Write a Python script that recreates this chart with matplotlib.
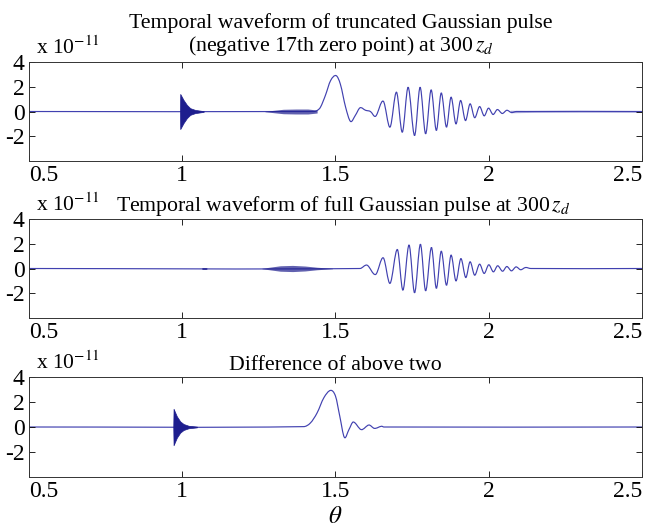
"""
    Temporal waveforms of truncated / full Gaussian pulse and their difference.
"""
import matplotlib
matplotlib.use("Agg")
import matplotlib.pyplot as plt
from matplotlib.path import Path
from matplotlib.patches import PathPatch

plt.rcParams['font.family'] = ['Liberation Serif', 'DejaVu Serif']
plt.rcParams['mathtext.fontset'] = 'stix'
plt.rcParams['axes.unicode_minus'] = False

# values in units of 1e-11
# --- truncated pulse (top)
trunc_theta = [0.5, 1.43, 1.44, 1.451, 1.467, 1.484, 1.502, 1.516, 1.533, 1.549, 1.565,
               1.580, 1.598, 1.614, 1.631, 1.656, 1.678, 1.699, 1.718, 1.737, 1.758,
               1.776, 1.794, 1.812, 1.829, 1.845, 1.862, 1.877, 1.893, 1.908, 1.924,
               1.939, 1.954, 1.970, 1.985, 1.999, 2.014, 2.028, 2.044, 2.059, 2.074,
               2.09, 2.5]
trunc_value = [0, 0, 0.08, 0.35, 1.3, 2.5, 2.9, 2.2, 0.35, -0.8, -0.3,
               0.3, 0.1, 0.0, -0.38, 0.83, -1.26, 1.56, -1.67, 1.96, -1.94,
               1.96, -1.8, 1.75, -1.53, 1.5, -1.26, 1.16, -1.0, 0.89, -0.73,
               0.62, -0.5, 0.4, -0.35, 0.27, -0.24, 0.16, -0.16, 0.1, -0.08,
               0, 0]
trunc_burst_theta = [0.9925, 0.9935, 1.004, 1.015, 1.026, 1.042, 1.07]
trunc_burst_env = [0, 1.42, 0.94, 0.54, 0.27, 0.13, 0.03]
trunc_ripple_theta = [1.27, 1.30, 1.33, 1.37, 1.41, 1.44]
trunc_ripple_env = [0.02, 0.1, 0.18, 0.2, 0.2, 0.12]
trunc_tail_theta = [2.07, 2.15, 2.3, 2.5]
trunc_tail_env = [0.1, 0.07, 0.06, 0.06]

# --- full pulse (middle)
full_theta = [0.5, 1.58, 1.603, 1.631, 1.656, 1.678, 1.702, 1.720, 1.740, 1.758,
              1.777, 1.794, 1.813, 1.829, 1.845, 1.862, 1.877, 1.893, 1.909, 1.925,
              1.939, 1.954, 1.970, 1.985, 2.000, 2.015, 2.029, 2.045, 2.059, 2.074,
              2.089, 2.104, 2.120, 2.137, 2.5]
full_value = [0, 0, 0.27, -0.48, 0.86, -1.2, 1.53, -1.75, 1.9, -1.96,
              1.96, -1.8, 1.7, -1.6, 1.4, -1.35, 1.08, -1.0, 0.8, -0.73,
              0.54, -0.54, 0.35, -0.4, 0.3, -0.27, 0.22, -0.22, 0.16, -0.19,
              0.13, -0.1, 0.08, 0, 0]
full_blip_theta = [1.062, 1.066, 1.078, 1.082]
full_blip_env = [0, 0.08, 0.08, 0]
full_ripple_theta = [1.26, 1.29, 1.32, 1.36, 1.40, 1.44, 1.49]
full_ripple_env = [0.02, 0.12, 0.22, 0.25, 0.2, 0.1, 0.02]

# --- difference (bottom)
diff_theta = [0.5, 1.396, 1.418, 1.440, 1.462, 1.484, 1.500, 1.514, 1.529, 1.544,
              1.558, 1.584, 1.609, 1.627, 1.650, 1.658, 2.5]
diff_value = [0, 0.03, 0.32, 1.13, 2.34, 2.93, 2.47, 0.86, -0.83, -0.2,
              0.4, -0.21, 0.16, -0.11, 0.06, 0, 0]
diff_burst_theta = [0.9707, 0.9717, 0.9825, 0.9934, 1.0043, 1.0207, 1.048]
diff_burst_env = [0, 1.46, 0.85, 0.45, 0.24, 0.1, 0.03]

titles = ["Temporal waveform of truncated Gaussian pulse\n(negative 17th zero point) at 300$\\,z_d$",
          "Temporal waveform of full Gaussian pulse at 300$\\,z_d$",
          "Difference of above two"]
title_x = [0.508, 0.513, 0.5]
title_pad = [8, 6, 5]
x_ticks = [0.5, 1, 1.5, 2, 2.5]
y_ticks = [-2, 0, 2, 4]

line_c = "#4141b0"
burst_c = "#1e1e8e"


def neg(env):
    return [-v for v in env]


def smooth_curve(ax, xs, ys, **kw):
    """draws the read points as one smooth bezier path (data coords)."""
    n = len(xs)
    slopes = []
    for i in range(n):
        a = max(i - 1, 0)
        b = min(i + 1, n - 1)
        slopes.append((ys[b] - ys[a]) / (xs[b] - xs[a]))
    verts = [(xs[0], ys[0])]
    codes = [Path.MOVETO]
    for i in range(n - 1):
        dx = (xs[i + 1] - xs[i]) / 3.0
        verts += [(xs[i] + dx, ys[i] + slopes[i] * dx),
                  (xs[i + 1] - dx, ys[i + 1] - slopes[i + 1] * dx),
                  (xs[i + 1], ys[i + 1])]
        codes += [Path.CURVE4] * 3
    ax.add_patch(PathPatch(Path(verts, codes), fill=False, **kw))


fig = plt.figure(figsize=(6.5, 5.31), dpi=100)
ax1 = fig.add_axes([0.0446, 0.6968, 0.9431, 0.1864])
ax2 = fig.add_axes([0.0446, 0.4011, 0.9431, 0.1865])
ax3 = fig.add_axes([0.0446, 0.1017, 0.9431, 0.1883])

smooth_curve(ax1, trunc_theta, trunc_value, edgecolor=line_c, lw=0.85)
ax1.fill_between(trunc_burst_theta, neg(trunc_burst_env), trunc_burst_env, color=burst_c, lw=0.5)
ax1.fill_between(trunc_ripple_theta, neg(trunc_ripple_env), trunc_ripple_env, color=burst_c, alpha=0.7, lw=0)
ax1.fill_between(trunc_tail_theta, neg(trunc_tail_env), trunc_tail_env, color=line_c, alpha=0.45, lw=0)

smooth_curve(ax2, full_theta, full_value, edgecolor=line_c, lw=0.85)
ax2.fill_between(full_blip_theta, neg(full_blip_env), full_blip_env, color=burst_c, alpha=0.8, lw=0)
ax2.fill_between(full_ripple_theta, neg(full_ripple_env), full_ripple_env, color=burst_c, alpha=0.7, lw=0)

smooth_curve(ax3, diff_theta, diff_value, edgecolor=line_c, lw=0.85)
ax3.fill_between(diff_burst_theta, neg(diff_burst_env), diff_burst_env, color=burst_c, lw=0.5)

for ax, t, tx, tp in zip([ax1, ax2, ax3], titles, title_x, title_pad):
    ax.set_xlim(0.5, 2.5)
    ax.set_ylim(-4, 4)
    ax.set_xticks(x_ticks)
    ax.set_xticklabels(["0.5", "1", "1.5", "2", "2.5"])
    ax.set_yticks(y_ticks)
    ax.tick_params(direction="in", top=True, right=True, length=4, width=0.6,
                   labelsize=17, pad=3)
    labels = ax.get_xticklabels()
    labels[0].set_ha("left")
    labels[-1].set_ha("right")
    for s in ax.spines.values():
        s.set_linewidth(0.7)
        s.set_color("#333333")
    ax.set_title(t, fontsize=15.7, pad=tp, linespacing=1.05, x=tx)
    ax.text(0.012, 1.03, "x 10$^{-11}$", transform=ax.transAxes, fontsize=15.5,
            ha="left", va="bottom")

ax3.set_xlabel("$\\theta$", fontsize=18, labelpad=3)

fig.savefig("out.png", dpi=100)
